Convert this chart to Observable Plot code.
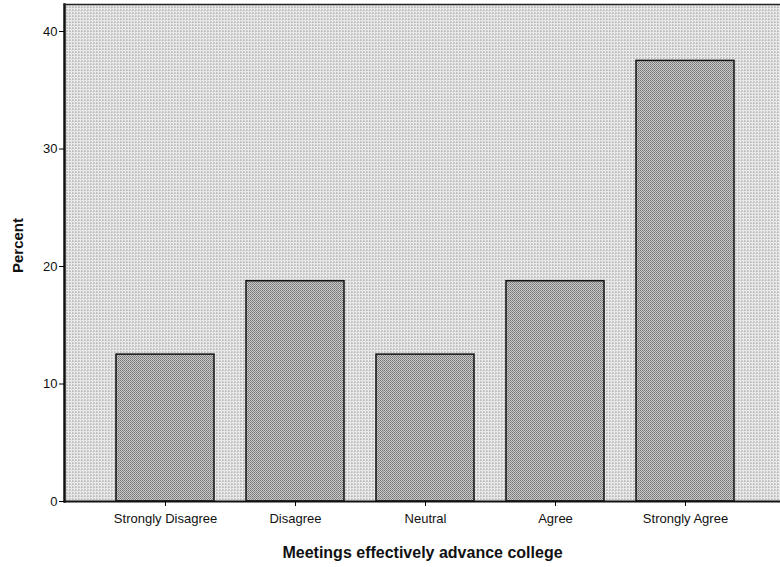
<!DOCTYPE html>
<html>
<head>
<meta charset="utf-8">
<script src="https://cdn.jsdelivr.net/npm/d3@7"></script>
<script src="https://cdn.jsdelivr.net/npm/@observablehq/plot@0.6"></script>
<style>
  html, body { margin: 0; padding: 0; background: #fff; overflow: hidden; }
  #chart svg { display: block; }
</style>
</head>
<body>
<div id="chart"></div>
<script>
const categories = ["Strongly Disagree", "Disagree", "Neutral", "Agree", "Strongly Agree"];
const percents = [12.5, 18.75, 12.5, 18.75, 37.5];
const yTicks = [0, 10, 20, 30, 40];
const xTitle = "Meetings effectively advance college";
const yTitle = "Percent";

const data = categories.map((c, i) => ({category: c, percent: percents[i]}));

const font = "'Liberation Sans', Arial, sans-serif";

const plot = Plot.plot({
  width: 780,
  height: 567,
  marginLeft: 64,
  marginRight: 0,
  marginTop: 4,
  marginBottom: 66,
  style: {fontFamily: font, fontSize: "13px", color: "#000", background: "#fff"},
  x: {
    domain: categories,
    paddingInner: 0.25,
    paddingOuter: 0.125,
    insetLeft: 36,
    insetRight: 30,
    label: null
  },
  y: {
    domain: [0, 42.3],
    ticks: yTicks,
    label: null
  },
  marks: [
    Plot.frame({fill: "url(#bgdots)"}),
    Plot.barY(data, {x: "category", y: "percent", fill: "url(#bardots)", stroke: "#111", strokeWidth: 1.5}),
    Plot.ruleY([0], {stroke: "#111", strokeWidth: 2}),
    Plot.frame({anchor: "left", stroke: "#111", strokeWidth: 2.5}),
    Plot.frame({anchor: "top", stroke: "#222", strokeWidth: 1.5}),
    Plot.axisY({ticks: yTicks, tickSize: 5, tickPadding: 2, fontSize: 13, label: null, fill: "#111"}),
    Plot.axisX({tickSize: 5, tickPadding: 7, fontSize: 13, label: null, fill: "#111"}),
    Plot.text([xTitle], {frameAnchor: "bottom", dy: 56, text: d => d, fontSize: 16, fontWeight: "bold", fill: "#111"}),
    Plot.text([yTitle], {frameAnchor: "left", dx: -46, dy: 20, rotate: -90, text: d => d, fontSize: 15, fontWeight: "bold", fill: "#111"})
  ]
});

const ns = "http://www.w3.org/2000/svg";
const defs = document.createElementNS(ns, "defs");
defs.innerHTML = `
  <pattern id="bgdots" width="3" height="3" patternUnits="userSpaceOnUse">
    <rect width="3" height="3" fill="#f2f2f2"/>
    <rect x="0" y="0" width="1" height="1" fill="#555"/>
    <rect x="2" y="1" width="1" height="1" fill="#b0b0b0"/>
  </pattern>
  <pattern id="bardots" width="2" height="2" patternUnits="userSpaceOnUse">
    <rect width="2" height="2" fill="#c8c8c8"/>
    <rect x="0" y="0" width="1" height="1" fill="#777"/>
    <rect x="1" y="1" width="1" height="1" fill="#8a8a8a"/>
  </pattern>`;
plot.insertBefore(defs, plot.firstChild);
document.getElementById("chart").appendChild(plot);
</script>
</body>
</html>
